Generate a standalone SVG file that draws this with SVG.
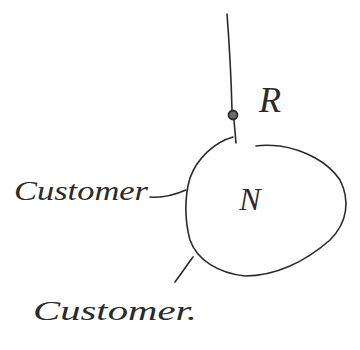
<svg xmlns="http://www.w3.org/2000/svg" width="360" height="350" viewBox="0 0 360 350">
<style>
.ln{fill:none;stroke:#2a2a2a;stroke-width:1.6;stroke-linecap:round;stroke-linejoin:round}
.hw{font-family:"Liberation Serif","DejaVu Serif",serif;font-style:italic;fill:#2a2a2a}
</style>
<rect width="360" height="350" fill="#ffffff"/>
<g id="connectors">
<path class="ln" d="M227,14 C229,40 231,70 232,110"/>
<path class="ln" d="M234,120 L236,143"/>
<path class="ln" d="M150,197 C160,198 172,196 186,190"/>
<path class="ln" d="M193,257 C187,265 181,274 175,282"/>
</g>
<g id="R">
<circle cx="233" cy="115" r="4.5" fill="#6a6a6a" stroke="#2a2a2a" stroke-width="1.8"/>
<text class="hw" x="259" y="112" font-size="36">R</text>
</g>
<g id="N">
<path class="ln" d="M233,137 C215,142 197,158 190,178 C184,198 185,222 190,240 C197,260 218,273 245,276 C275,276 305,262 330,240 C348,222 350,200 340,180 C328,162 305,150 280,146 C270,145 262,145 256,146"/>
<text class="hw" x="250" y="210" font-size="32" text-anchor="middle">N</text>
</g>
<g id="customer1">
<text class="hw" x="14" y="200" font-size="28" textLength="134" lengthAdjust="spacingAndGlyphs">Customer</text>
</g>
<g id="customer2">
<text class="hw" x="33" y="320" font-size="28" textLength="164" lengthAdjust="spacingAndGlyphs">Customer.</text>
</g>
</svg>
